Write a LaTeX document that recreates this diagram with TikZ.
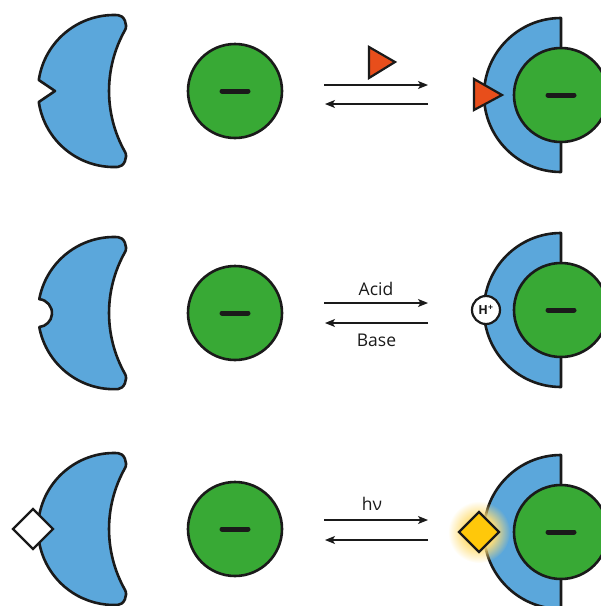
\documentclass[tikz,border=0pt]{standalone}
\usepackage{fontspec}
\setmainfont{Open Sans}
\usetikzlibrary{positioning,arrows.meta,fadings,shapes.geometric}
\definecolor{hostblue}{RGB}{91,167,219}
\definecolor{guestgreen}{RGB}{56,169,53}
\definecolor{wedgered}{RGB}{232,78,27}
\definecolor{lightgold}{RGB}{255,200,10}
\definecolor{glowgold}{RGB}{255,222,120}
\definecolor{ink}{RGB}{26,26,26}
\pgfdeclareradialshading{glowshade}{\pgfpointorigin}{color(0bp)=(white); color(12bp)=(white); color(25bp)=(black); color(50bp)=(black)}
\pgfdeclarefading{glowfade}{\pgfuseshading{glowshade}}

\begin{document}
\begin{tikzpicture}[x=1pt,y=1pt,
	host/.style={fill=hostblue,draw=ink,line width=2.6pt,line join=round},
	guest/.style={circle,fill=guestgreen,draw=ink,line width=2.6pt,minimum size=94pt,inner sep=0pt},
	minus/.style={draw=ink,line width=5pt,line cap=round},
	wedge/.style={fill=wedgered,draw=ink,line width=2.2pt,line join=miter},
	rxn/.style={draw=ink,line width=1.2pt,-{Stealth[length=10pt,width=8pt,inset=2.5pt]}},
	lbl/.style={font=\fontsize{17.5}{20}\selectfont,text=ink,inner sep=0pt}]
	\useasboundingbox (0,0) rectangle (601,-606);
	\clip (0,0) rectangle (601,-606);
	% row 1: wedge guest
	\begin{scope}[shift={(0,-91)}]
		\draw[host] (117.98,75.9) arc[start angle=87,end angle=171.7,radius=76] -- (55,0) -- (38.8,-11)
			arc[start angle=188.3,end angle=273,radius=76] .. controls (124,-76) and (128,-66) .. (125.1,-61.06)
			arc[start angle=209.5,end angle=150.5,radius=124] .. controls (128,66) and (124,76) .. cycle;
	\end{scope}
	\node[guest] (g1) at (235,-91) {};
		\draw[minus] ([xshift=-13pt]g1.center) -- ([xshift=13pt]g1.center);
	\draw[wedge] (369,-47) -- (369,-78) -- (395,-62) -- cycle;
	\coordinate (f1a) at (324,-85);
	\coordinate (f1b) at (428,-85);
	\coordinate (b1a) at (428,-104);
	\coordinate (b1b) at (325,-104);
		\draw[rxn] (f1a) -- (f1b);
		\draw[rxn] (b1a) -- (b1b);
	\draw[host] (561,-18) arc[start angle=90,end angle=270,radius=77] -- cycle;
	\node[guest] (c1) at (561,-95) {};
		\draw[minus] ([xshift=-13pt]c1.center) -- ([xshift=13pt]c1.center);
	\draw[wedge] (474,-79) -- (474,-110) -- (502,-95) -- cycle;
	% row 2: acid / base
	\begin{scope}[shift={(0,-313)}]
		\draw[host] (117.98,75.9) arc[start angle=87,end angle=169.5,radius=76]
			arc[start angle=84.8,end angle=-84.8,radius=14]
			arc[start angle=190.5,end angle=273,radius=76] .. controls (124,-76) and (128,-66) .. (125.1,-61.06)
			arc[start angle=209.5,end angle=150.5,radius=124] .. controls (128,66) and (124,76) .. cycle;
	\end{scope}
	\node[guest] (g2) at (235,-313) {};
		\draw[minus] ([xshift=-13pt]g2.center) -- ([xshift=13pt]g2.center);
	\coordinate (f2a) at (324,-303);
	\coordinate (f2b) at (428,-303);
	\coordinate (b2a) at (428,-323);
	\coordinate (b2b) at (325,-323);
		\draw[rxn] (f2a) -- (f2b) node[lbl, midway, above=7pt] {Acid};
		\draw[rxn] (b2a) -- (b2b) node[lbl, midway, below=10pt] {Base};
	\draw[host] (561,-233) arc[start angle=90,end angle=270,radius=77] -- cycle;
	\node[guest] (c2) at (561,-310) {};
		\draw[minus] ([xshift=-13pt]c2.center) -- ([xshift=13pt]c2.center);
	\node[circle,fill=white,draw=ink,line width=2.2pt,minimum size=28pt,inner sep=0pt,
		font=\fontsize{12.5}{12.5}\selectfont\bfseries,text=ink] (hp) at (486,-310) {H\textsuperscript{+}};
	% row 3: light
	\begin{scope}[shift={(0,-529)}]
		\draw[host] (117.98,75.9) arc[start angle=87,end angle=273,radius=76] .. controls (124,-76) and (128,-66) .. (125.1,-61.06)
			arc[start angle=209.5,end angle=150.5,radius=124] .. controls (128,66) and (124,76) .. cycle;
	\end{scope}
	\node[diamond,fill=white,draw=ink,line width=2.2pt,minimum width=41pt,minimum height=41pt,inner sep=0pt] (d1) at (33,-529) {};
	\node[guest] (g3) at (235,-529) {};
		\draw[minus] ([xshift=-13pt]g3.center) -- ([xshift=13pt]g3.center);
	\coordinate (f3a) at (324,-520);
	\coordinate (f3b) at (428,-520);
	\coordinate (b3a) at (428,-540);
	\coordinate (b3b) at (325,-540);
		\draw[rxn] (f3a) -- (f3b) node[lbl, midway, above=9pt, xshift=-4pt] {hν};
		\draw[rxn] (b3a) -- (b3b);
	\draw[host] (561,-455) arc[start angle=90,end angle=270,radius=77] -- cycle;
	\node[guest] (c3) at (561,-532) {};
		\draw[minus] ([xshift=-13pt]c3.center) -- ([xshift=13pt]c3.center);
	\fill[glowgold, path fading=glowfade] (479,-532) circle (31);
	\node[diamond,fill=lightgold,draw=ink,line width=2.2pt,minimum width=41pt,minimum height=41pt,inner sep=0pt] (d2) at (479,-532) {};
\end{tikzpicture}
\end{document}
